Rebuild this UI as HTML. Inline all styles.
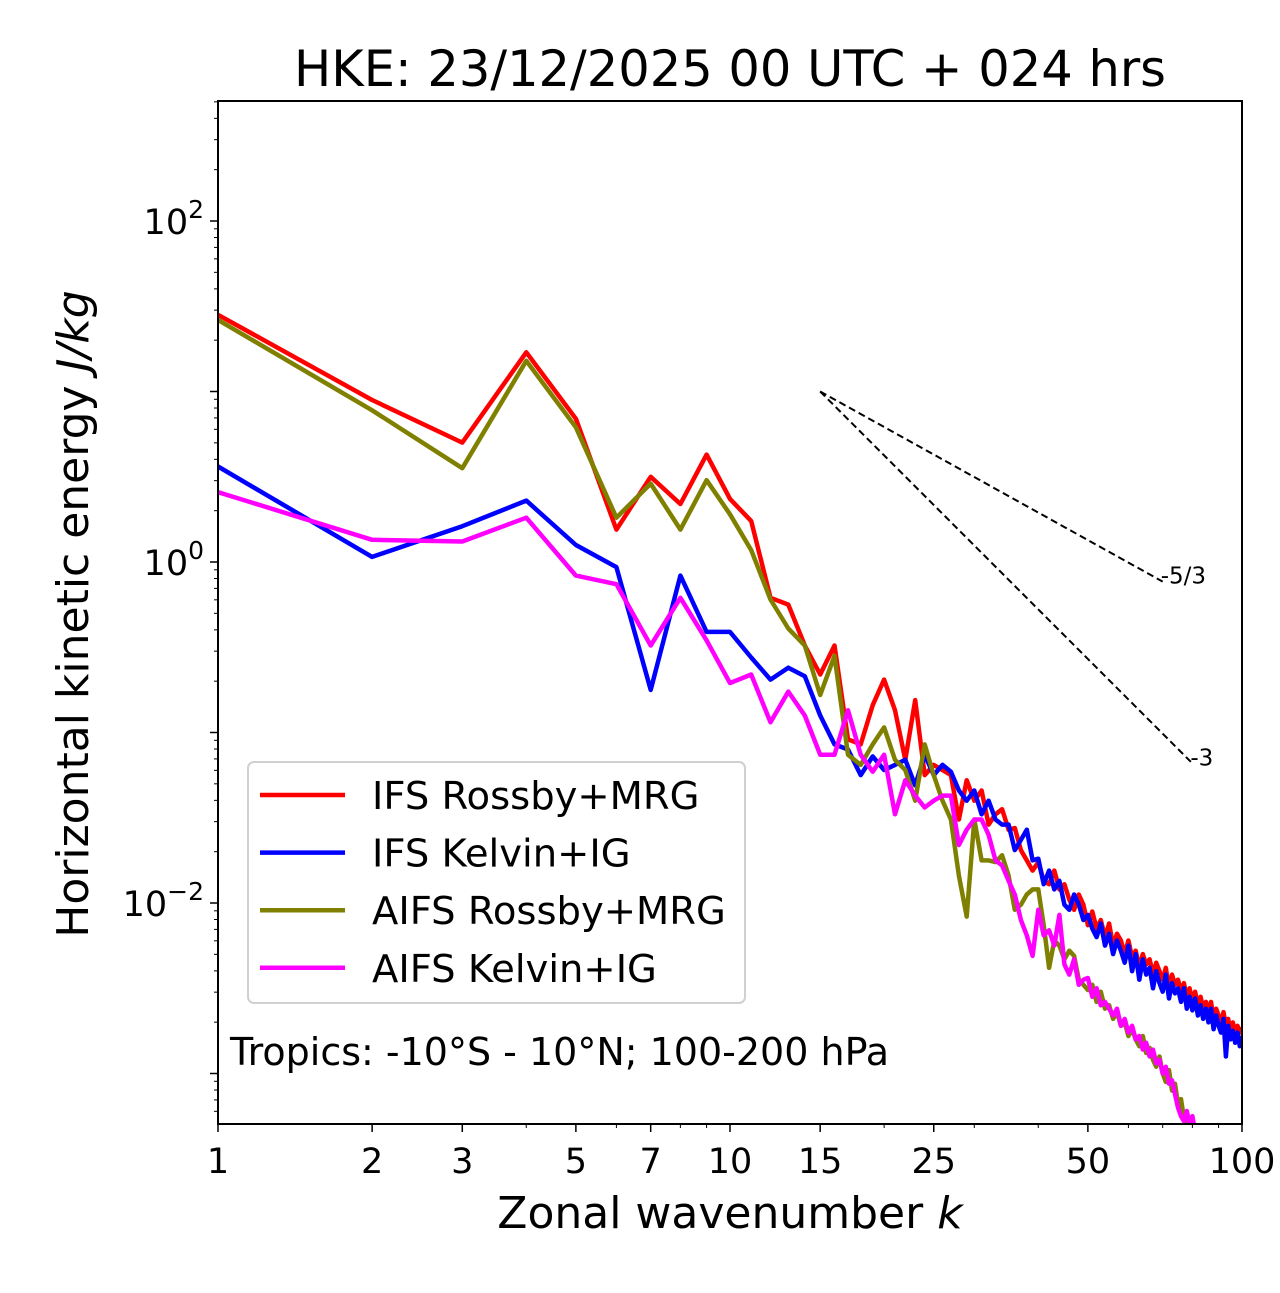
<!DOCTYPE html>
<html><head><meta charset="utf-8"><style>
body{margin:0;background:#fff}
svg text{font-family:"DejaVu Sans","Liberation Sans",sans-serif}
</style></head><body>
<svg id="chart" width="1280" height="1288" viewBox="0 0 1280 1288" xmlns="http://www.w3.org/2000/svg">
<rect width="1280" height="1288" fill="#fff"/>
<text x="730" y="86" font-size="49.5" text-anchor="middle">HKE: 23/12/2025 00 UTC + 024 hrs</text>
<g id="plot"></g>
<text x="730" y="1228" font-size="44" text-anchor="middle">Zonal wavenumber <tspan font-style="italic">k</tspan></text>
<text transform="translate(88,614) rotate(-90)" font-size="44" text-anchor="middle">Horizontal kinetic energy <tspan font-style="italic">J/kg</tspan></text>
</svg>
<script>
const redLog = [1.45,0.95,0.70,1.23,0.84,0.19,0.50,0.34,0.63,0.37,0.24,-0.21,-0.25,-0.49,-0.66,-0.49,-1.04,-1.07,-0.84,-0.69,-0.87,-1.16,-0.81,-1.25,-1.19,-1.22,-1.25,-1.51,-1.28,-1.40,-1.34,-1.54,-1.48,-1.45,-1.57,-1.56,-1.69,-1.75,-1.81,-1.76,-1.87,-1.89,-1.81,-1.92,-1.89,-1.98,-2.04,-1.95,-2.01,-2.13,
-2.05,-2.15,-2.10,-2.20,-2.12,-2.25,-2.18,-2.22,-2.30,-2.22,-2.32,-2.28,-2.38,-2.30,-2.36,-2.33,-2.42,-2.35,-2.40,-2.45,-2.38,-2.50,-2.42,-2.48,-2.45,-2.52,-2.47,-2.55,-2.50,-2.58,-2.52,-2.60,-2.55,-2.62,-2.58,-2.65,-2.58,-2.68,-2.62,-2.66,-2.70,-2.64,-2.72,-2.68,-2.76,-2.70,-2.78,-2.72,-2.76,-2.73];
const blueLog = [0.56,0.03,0.21,0.36,0.10,-0.03,-0.75,-0.08,-0.41,-0.41,-0.56,-0.69,-0.62,-0.67,-0.90,-1.07,-1.10,-1.25,-1.14,-1.22,-1.19,-1.16,-1.31,-1.13,-1.25,-1.19,-1.23,-1.34,-1.40,-1.34,-1.48,-1.40,-1.51,-1.54,-1.54,-1.69,-1.63,-1.57,-1.75,-1.74,-1.89,-1.81,-1.92,-1.87,-2.01,-2.04,-1.95,-2.01,-2.10,-2.07,
-2.15,-2.20,-2.12,-2.25,-2.18,-2.30,-2.22,-2.28,-2.35,-2.25,-2.40,-2.30,-2.45,-2.33,-2.42,-2.38,-2.50,-2.40,-2.47,-2.52,-2.42,-2.56,-2.47,-2.53,-2.50,-2.58,-2.50,-2.62,-2.55,-2.63,-2.56,-2.66,-2.60,-2.68,-2.62,-2.70,-2.62,-2.74,-2.66,-2.72,-2.76,-2.68,-2.90,-2.72,-2.80,-2.75,-2.82,-2.76,-2.84,-2.78];
const oliveLog = [1.42,0.89,0.55,1.18,0.79,0.26,0.46,0.19,0.48,0.28,0.07,-0.22,-0.39,-0.49,-0.78,-0.55,-1.13,-1.19,-1.07,-0.97,-1.16,-1.22,-1.40,-1.07,-1.25,-1.40,-1.51,-1.84,-2.08,-1.51,-1.75,-1.75,-1.76,-1.72,-1.84,-2.04,-2.01,-1.95,-1.92,-1.92,-2.13,-2.38,-2.22,-2.25,-2.33,-2.28,-2.31,-2.45,-2.48,-2.51,
-2.48,-2.58,-2.52,-2.62,-2.60,-2.68,-2.64,-2.72,-2.70,-2.78,-2.74,-2.80,-2.84,-2.78,-2.88,-2.85,-2.92,-2.96,-2.90,-3.00,-3.05,-2.98,-3.10,-3.06,-3.18,-3.15,-3.26,-3.30,-3.35,-3.40];
const magentaLog = [0.41,0.13,0.12,0.26,-0.08,-0.13,-0.49,-0.21,-0.46,-0.71,-0.66,-0.94,-0.76,-0.90,-1.13,-1.13,-0.87,-1.13,-1.23,-1.13,-1.48,-1.28,-1.37,-1.44,-1.40,-1.37,-1.37,-1.66,-1.57,-1.51,-1.51,-1.60,-1.75,-1.78,-1.87,-1.95,-2.10,-2.19,-2.31,-2.04,-2.19,-2.16,-2.25,-2.07,-2.36,-2.42,-2.33,-2.48,-2.45,-2.44,
-2.55,-2.50,-2.60,-2.58,-2.62,-2.66,-2.62,-2.72,-2.68,-2.76,-2.72,-2.80,-2.78,-2.86,-2.82,-2.90,-2.86,-2.94,-2.92,-3.00,-2.96,-3.06,-3.04,-3.12,-3.20,-3.25,-3.28,-3.22,-3.30,-3.25,-3.35];
const seriesNames = ["IFS Rossby+MRG","IFS Kelvin+IG","AIFS Rossby+MRG","AIFS Kelvin+IG"];
const seriesColors = ["#ff0000","#0000ff","#808000","#ff00ff"];
const xTickVals = [1,2,3,5,7,10,15,25,50,100];
const xMinorVals = [4,6,8,9,20,30,40,60,70,80,90];
const yLabelExps = [-2,0,2];
const slopes = [-5/3,-3];
const slopeLabels = ["-5/3","-3"];
const slopeEnds = [70,80];
const slopeStartK = 15, slopeStartLog = 1.0;

const L=218,R=1242,T=101,B=1124;
const X = k => L + 512*Math.log10(k);
const Y = lg => 562 - 170.5*lg;
const NS="http://www.w3.org/2000/svg";
const plot=document.getElementById('plot');
function mk(tag,attrs,parent){const e=document.createElementNS(NS,tag);for(const a in attrs)e.setAttribute(a,attrs[a]);(parent||plot).appendChild(e);return e;}

const defs=mk('defs',{});
const cp=mk('clipPath',{id:'clip'},defs);
mk('rect',{x:L,y:T,width:R-L,height:B-T},cp);

slopes.forEach((s,i)=>{
  const k2=slopeEnds[i];
  const l=mk('line',{x1:X(slopeStartK),y1:Y(slopeStartLog),x2:X(k2),y2:Y(slopeStartLog+s*Math.log10(k2/slopeStartK)),stroke:'#000','stroke-width':2,'stroke-dasharray':'7,4'});
  
  
  const t=mk('text',{x:X(k2)-2,y:Y(slopeStartLog+s*Math.log10(k2/slopeStartK))+2,'font-size':23});
  t.textContent=slopeLabels[i];
  
  
});

const allSeries=[redLog,blueLog,oliveLog,magentaLog];
const gLines=mk('g',{'clip-path':'url(#clip)'});
allSeries.forEach((arr,si)=>{
  const d=arr.map((v,i)=>(i?'L':'M')+X(i+1).toFixed(1)+','+Y(v).toFixed(1)).join('');
  const p=mk('path',{d:d,fill:'none',stroke:seriesColors[si],'stroke-width':4.5,'stroke-linejoin':'round'},gLines);
  
  
});

const fr=mk('rect',{x:L,y:T,width:R-L,height:B-T,fill:'none',stroke:'#000','stroke-width':2});



xTickVals.forEach(k=>{
  mk('line',{x1:X(k),x2:X(k),y1:B,y2:B+8,stroke:'#000','stroke-width':1.5});
  const t=mk('text',{x:X(k),y:B+49,'font-size':35,'text-anchor':'middle'});
  t.textContent=k;
  
  
});
xMinorVals.forEach(k=>{mk('line',{x1:X(k),x2:X(k),y1:B,y2:B+4,stroke:'#000','stroke-width':1});});

for(let e=-4;e<=3;e++){
  const y=Y(e);
  if(y>=T-0.5&&y<=B+0.5) mk('line',{x1:L-8,x2:L,y1:y,y2:y,stroke:'#000','stroke-width':1.5});
  for(let m=2;m<=9;m++){const ym=Y(e+Math.log10(m)); if(ym>=T&&ym<=B) mk('line',{x1:L-4,x2:L,y1:ym,y2:ym,stroke:'#000','stroke-width':1});}
}
yLabelExps.forEach(e=>{
  const t=mk('text',{x:L-14,y:Y(e)+13,'font-size':35,'text-anchor':'end'});
  t.innerHTML='10<tspan dy="-16" font-size="25">'+(e<0?'\u2212'+(-e):e)+'</tspan>';
  
  
});

const lg=mk('g',{});


mk('rect',{x:248,y:762,width:497,height:241,rx:6,fill:'#fff','fill-opacity':0.8,stroke:'#d0d0d0','stroke-width':2},lg);
seriesNames.forEach((n,i)=>{
  const yy=795+57.6*i;
  mk('line',{x1:260,x2:345,y1:yy,y2:yy,stroke:seriesColors[i],'stroke-width':4.5},lg);
  const t=mk('text',{x:372,y:yy+14,'font-size':38.5},lg);
  t.textContent=n;
  
  
});
const an=mk('text',{x:230,y:1065,'font-size':38});
an.textContent='Tropics: -10°S - 10°N; 100-200 hPa';


</script>
</body></html>
